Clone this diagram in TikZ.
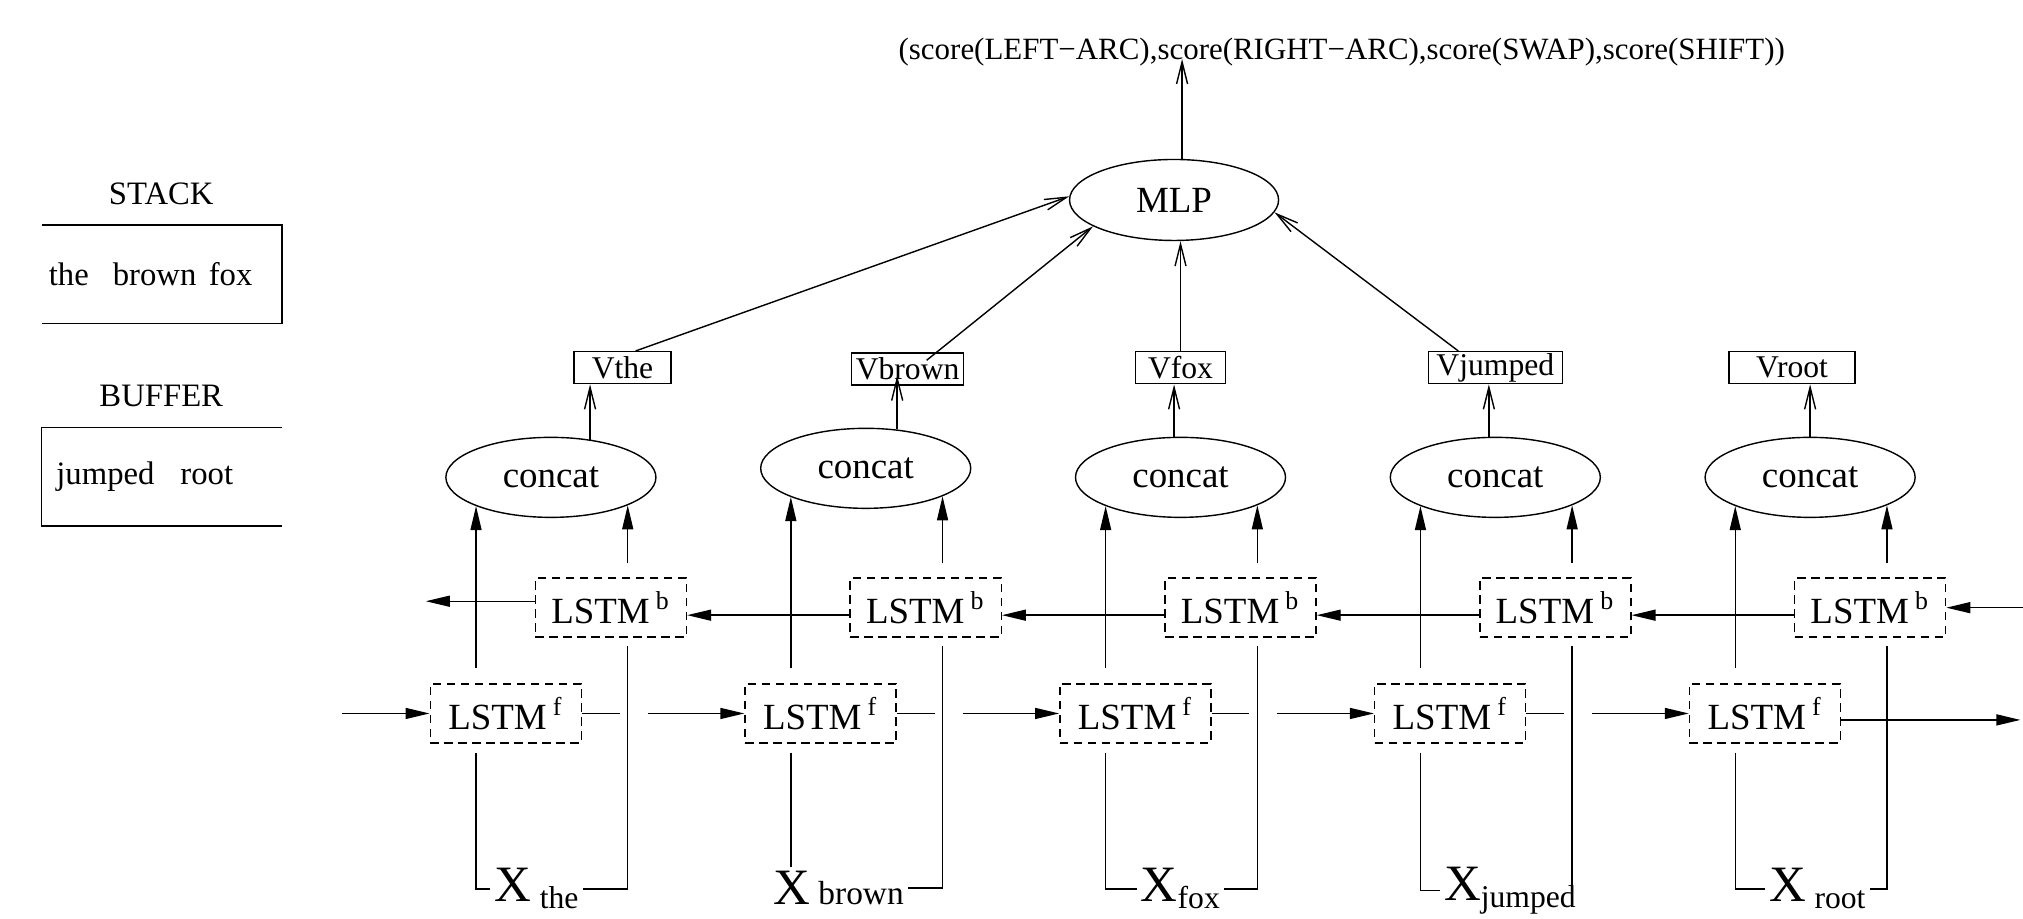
\documentclass[tikz,border=0pt]{standalone}
\usepackage{fontspec}
\setmainfont{Liberation Serif}
\usetikzlibrary{shapes.geometric,arrows.meta}

\newcommand{\wordsub}[1]{\raisebox{-2pt}{\fontsize{9}{10}\selectfont #1}}

\tikzset{
	lstmbox/.style={draw, dash pattern=on 0.85mm off 0.55mm, minimum width=15.1mm, minimum height=5.9mm, inner sep=0pt, font=\fontsize{10.5}{12}\selectfont},
	catnode/.style={draw, ellipse, minimum width=21mm, minimum height=8mm, inner sep=0pt, font=\fontsize{10.5}{12}\selectfont},
	vecbox/.style={draw, rectangle, minimum height=3.2mm, inner sep=0pt, font=\fontsize{9}{10}\selectfont},
	inword/.style={inner sep=1pt, anchor=base west, font=\fontsize{14.5}{16}\selectfont},
	openarr/.style={-{Straight Barb[length=2.2mm,width=1.1mm]}},
	fillarr/.style={-{Triangle[length=2.4mm,width=1.1mm]}},
}

\begin{document}
\begin{tikzpicture}[x=0.129mm, y=-0.129mm, line width=0.4pt]
		\useasboundingbox (0,0) rectangle (1568,712);
		
		%stack and buffer
		\node[font=\fontsize{9.3}{11}\selectfont] (stacklbl) at (125,150) {STACK};
		\node[font=\fontsize{9.3}{11}\selectfont, text width=22.6mm, inner xsep=0.65mm, minimum height=9.7mm, align=left] (stack) at (125.5,212.5) {the\hspace{2.4mm}brown\hspace{1.25mm}fox};
		\draw (stack.north west) -- (stack.north east) -- (stack.south east) -- (stack.south west);
		
		\node[font=\fontsize{9.3}{11}\selectfont] (bufferlbl) at (125,307) {BUFFER};
		\node[font=\fontsize{9.3}{11}\selectfont, text width=21.1mm, inner xsep=1.4mm, minimum height=9.7mm, align=left] (buffer) at (125.5,369.5) {jumped\hspace{2.6mm}root};
		\draw (buffer.north east) -- (buffer.north west) -- (buffer.south west) -- (buffer.south east);
		
		%output and mlp
		\node[font=\fontsize{8.8}{10}\selectfont] (scores) at (1040,40) {(score(LEFT−ARC),score(RIGHT−ARC),score(SWAP),score(SHIFT))};
		\node[draw, ellipse, minimum width=20.9mm, minimum height=8.1mm, inner sep=0pt, font=\fontsize{10.5}{12}\selectfont] (mlp) at (910,155) {MLP};
		\draw[openarr] ([xshift=0.8mm]mlp.north) -- ([xshift=0.8mm]mlp.north |- scores.base);
		
		%word vectors
		\node[vecbox, minimum width=9.7mm] (vthe) at (482.5,285) {Vthe};
		\node[vecbox, minimum width=11.2mm] (vbrown) at (703.5,286) {Vbrown};
		\node[vecbox, minimum width=9mm] (vfox) at (915,285) {Vfox};
		\node[vecbox, minimum width=13.4mm] (vjumped) at (1159,285) {Vjumped};
		\node[vecbox, minimum width=12.6mm] (vroot) at (1389,285) {Vroot};
		
		\draw[openarr] ([xshift=1.3mm]vthe.north) -- (mlp.178);
		\draw[openarr] ([xshift=1.9mm,yshift=-0.8mm]vbrown.north) -- (mlp.198);
		\draw[openarr] (vfox.north) -- (vfox.north |- mlp.south);
		\draw[openarr] ([xshift=-3.7mm]vjumped.north) -- (mlp.353);
		
		%concat and lstm cells
		\foreach \i/\x/\y in {1/427/370, 2/671/363, 3/915/370, 4/1159/370, 5/1403/370}{
			\node[catnode] (cat\i) at (\x,\y) {concat};
			\node[lstmbox] (lb\i) at (\x+46.5,471) {LSTM\,\textsuperscript{b}};
			\node[lstmbox] (lf\i) at (\x-35,553) {LSTM\,\textsuperscript{f}};
			\draw[fillarr, shorten <=1.5mm] (cat\i.201 |- lf\i.north) -- (cat\i.201);
			\draw[fillarr, shorten <=1.4mm] (cat\i.340 |- lb\i.north) -- (cat\i.340);
		}
		
		\draw[openarr] (cat1.44) -- (cat1.44 |- vthe.south);
		\draw[openarr, shorten >=-1mm] (cat2.51) -- (cat2.51 |- vbrown.south);
		\draw[openarr] (cat3.99) -- (cat3.99 |- vfox.south);
		\draw[openarr] (cat4.99) -- (cat4.99 |- vjumped.south);
		\draw[openarr] (cat5.north) -- (cat5.north |- vroot.south);
		
		%backward chain
		\coordinate (bout) at (330,466);
		\coordinate (bin) at (1568,471);
		\draw[fillarr] (lb1.west |- bout) -- (bout);
		\foreach \i/\j in {2/1, 3/2, 4/3, 5/4}{
			\draw[fillarr] ([yshift=-0.75mm]lb\i.west) -- ([yshift=-0.75mm]lb\j.east);
		}
		\draw[fillarr] (bin) -- (lb5.east);
		
		%forward chain
		\coordinate (fin) at (265,553);
		\coordinate (fout) at (1566,558);
		\draw[fillarr] (fin) -- (lf1.west);
		\foreach \i/\j in {1/2, 2/3, 3/4, 4/5}{
			\draw (lf\i.east) -- ([xshift=-0.8mm]cat\i.340 |- lf\i.east);
			\draw[fillarr] ([xshift=2mm]cat\i.340 |- lf\i.east) -- (lf\j.west);
		}
		\draw[fillarr] (lf5.east |- fout) -- (fout);
		
		%inputs
		\node[inword] (xthe) at (380,699) {X\,\wordsub{the}};
		\node[inword] (xbrown) at (596,701) {X\,{\fontsize{9.5}{10}\selectfont brown}};
		\node[inword] (xfox) at (881,699) {X\wordsub{fox}};
		\node[inword] (xjumped) at (1116,698) {X\wordsub{jumped}};
		\node[inword] (xroot) at (1368,699) {X\,\wordsub{root}};
		
		\draw[shorten <=0.9mm] (cat1.201 |- lf1.south) |- (xthe.west);
		\draw[shorten <=0.8mm] (cat1.340 |- lb1.south) |- (xthe.east);
		\draw[shorten <=0.9mm] (cat2.201 |- lf2.south) -- (cat2.201 |- xbrown.north);
		\draw[shorten <=0.8mm] (cat2.340 |- lb2.south) |- (xbrown.east);
		\draw[shorten <=0.9mm] (cat3.201 |- lf3.south) |- (xfox.west);
		\draw[shorten <=0.8mm] (cat3.340 |- lb3.south) |- (xfox.east);
		\draw[shorten <=0.9mm] (cat4.201 |- lf4.south) |- (xjumped.west);
		\draw[shorten <=0.8mm] (cat4.340 |- lb4.south) -- (cat4.340 |- xjumped.center);
		\draw[shorten <=0.9mm] (cat5.201 |- lf5.south) |- (xroot.west);
		\draw[shorten <=0.8mm] (cat5.340 |- lb5.south) |- (xroot.east);
\end{tikzpicture}
\end{document}
